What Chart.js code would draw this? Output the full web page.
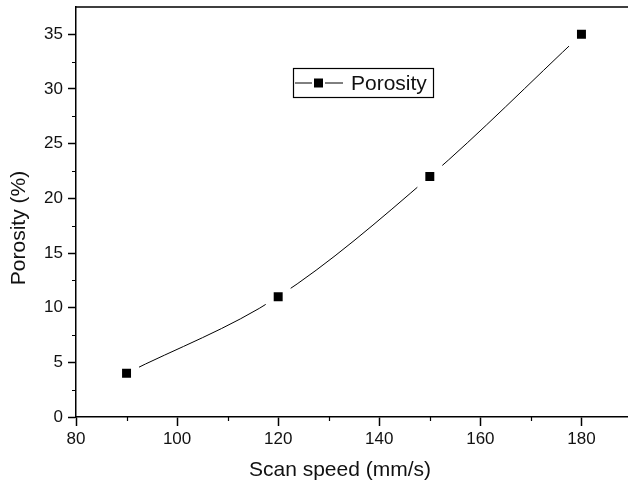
<!DOCTYPE html>
<html>
<head>
<meta charset="utf-8">
<script src="https://cdn.jsdelivr.net/npm/chart.js@4"></script>
<style>
  html, body { margin: 0; padding: 0; background: #fff; overflow: hidden; }
  #wrap { width: 632px; height: 483px; }
</style>
</head>
<body>
<div id="wrap"><canvas id="porosityChart" width="632" height="483"></canvas></div>
<script>
// data
const scanSpeed = [90, 120, 150, 180];
const porosity = [4, 11, 22, 35];
const xTicks = [80, 100, 120, 140, 160, 180];
const yTicks = [0, 5, 10, 15, 20, 25, 30, 35];
const xTitle = 'Scan speed (mm/s)';
const yTitle = 'Porosity (%)';

const FONT = "'Liberation Sans', Arial, sans-serif";

// axis titles, minor ticks, top/right frame and the boxed legend
const framePlugin = {
    id: 'frame',
    afterDraw(chart) {
        const { ctx, chartArea: a, scales: { x, y } } = chart;
        ctx.save();
        ctx.strokeStyle = '#000';
        ctx.lineWidth = 1.5;
        ctx.beginPath();
        ctx.moveTo(a.left, a.top);
        ctx.lineTo(a.right, a.top);
        ctx.lineTo(a.right, a.bottom);
        ctx.stroke();

        // minor ticks
        ctx.lineWidth = 1.2;
        ctx.beginPath();
        for (let v = 90; v < 190; v += 20) {
            const px = Math.round(x.getPixelForValue(v)) + 0.5;
            ctx.moveTo(px, a.bottom);
            ctx.lineTo(px, a.bottom + 4);
        }
        for (let v = 2.5; v < 37.5; v += 5) {
            const py = Math.round(y.getPixelForValue(v)) + 0.5;
            ctx.moveTo(a.left, py);
            ctx.lineTo(a.left - 4, py);
        }
        ctx.stroke();

        // axis titles
        ctx.fillStyle = '#111';
        ctx.font = '21px ' + FONT;
        ctx.textAlign = 'center';
        ctx.textBaseline = 'middle';
        ctx.fillText(xTitle, a.left + 264, a.bottom + 53);
        ctx.save();
        ctx.translate(19, a.top + 221);
        ctx.rotate(-Math.PI / 2);
        ctx.fillText(yTitle, 0, 0);
        ctx.restore();

        // legend box
        const bx = a.left + 217, by = a.top + 61, bw = 140, bh = 29;
        ctx.lineWidth = 1.2;
        ctx.strokeRect(bx + 0.5, by + 0.5, bw, bh);
        const cy = by + bh / 2 + 0.5;
        ctx.lineWidth = 1;
        ctx.beginPath();
        ctx.moveTo(bx + 2, cy); ctx.lineTo(bx + 19, cy);
        ctx.moveTo(bx + 32, cy); ctx.lineTo(bx + 50, cy);
        ctx.stroke();
        ctx.fillStyle = '#000';
        ctx.fillRect(bx + 21, cy - 4.5, 9, 9);
        ctx.font = '21px ' + FONT;
        ctx.textAlign = 'left';
        ctx.fillStyle = '#111';
        ctx.fillText(chart.data.datasets[0].label, bx + 58, cy + 1);
        ctx.restore();
    }
};

new Chart(document.getElementById('porosityChart'), {
    type: 'line',
    data: {
        datasets: [{
            label: 'Porosity',
            data: scanSpeed.map((s, i) => ({ x: s, y: porosity[i] })),
            borderColor: '#000',
            borderWidth: 1,
            cubicInterpolationMode: 'monotone',
            pointStyle: 'rect',
            pointRadius: 12,
            pointBackgroundColor: '#000',
            pointBorderColor: '#fff',
            pointBorderWidth: 8,
            pointHoverRadius: 12
        }]
    },
    options: {
        responsive: false,
        animation: false,
        events: [],
        layout: { autoPadding: false, padding: { top: 7, right: 0, left: 0, bottom: 0 } },
        plugins: {
            legend: { display: false },
            tooltip: { enabled: false }
        },
        scales: {
            x: {
                type: 'linear',
                min: 80,
                max: 190,
                afterFit: s => { s.height = 66; s.paddingLeft = 0; s.paddingRight = 0; },
                afterBuildTicks: s => { s.ticks = xTicks.map(v => ({ value: v })); },
                border: { color: '#000', width: 1.5 },
                grid: {
                    drawOnChartArea: false,
                    tickLength: 9,
                    tickWidth: 1.5,
                    tickColor: '#000'
                },
                ticks: {
                    color: '#111',
                    font: { family: FONT, size: 17 },
                    padding: 3,
                    maxRotation: 0
                }
            },
            y: {
                min: 0,
                max: 37.5,
                afterFit: s => { s.width = 76; s.paddingTop = 0; s.paddingBottom = 0; },
                afterBuildTicks: s => { s.ticks = yTicks.map(v => ({ value: v })); },
                border: { color: '#000', width: 1.5 },
                grid: {
                    drawOnChartArea: false,
                    tickLength: 8,
                    tickWidth: 1.5,
                    tickColor: '#000'
                },
                ticks: {
                    color: '#111',
                    font: { family: FONT, size: 17 },
                    padding: 5
                }
            }
        }
    },
    plugins: [framePlugin]
});
</script>
</body>
</html>
